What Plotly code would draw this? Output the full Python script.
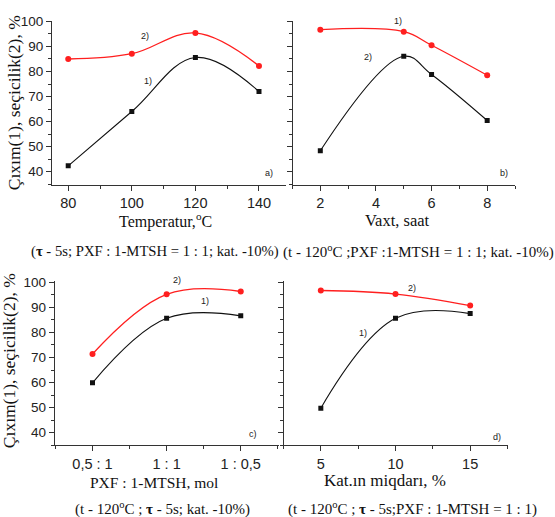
import plotly.graph_objects as go

# ---------------- data ----------------
temp = [80, 100, 120, 140]
temp_yield = [42.3, 64.0, 85.6, 72.0]
temp_select = [85.0, 87.1, 95.4, 82.2]

time_h = [2, 5, 6, 8]
time_select = [96.7, 95.9, 90.5, 78.5]   # labelled "1)" in panel b
time_yield = [48.3, 86.1, 78.8, 60.4]    # labelled "2)" in panel b

ratio_labels = ["0,5 : 1", "1 : 1", "1 : 0,5"]
ratio_yield = [59.9, 85.6, 86.6]
ratio_select = [71.4, 95.2, 96.3]

cat_pct = [5, 10, 15]
cat_yield = [49.8, 85.6, 87.5]
cat_select = [96.7, 95.3, 90.7]

y_ticks = [40, 50, 60, 70, 80, 90, 100]

# ---------------- layout helpers ----------------
W, H = 555, 517
def px(x):
    return x / W
def py(y):
    return 1 - y / H

RED = "#ff1f1f"
BLACK = "#111111"
AX = "#333333"
SERIF = "Liberation Serif, Times New Roman, serif"
SANS = "Liberation Sans, Arial, sans-serif"

fig = go.Figure()

ratio_x = list(range(len(ratio_labels)))

panels = [
    ("x", "y", temp, temp_yield, temp_select),
    ("x2", "y2", time_h, time_yield, time_select),
    ("x3", "y3", ratio_x, ratio_yield, ratio_select),
    ("x4", "y4", cat_pct, cat_yield, cat_select),
]

for xa, ya, xs, blk, red in panels:
    fig.add_trace(go.Scatter(
        x=xs, y=red, xaxis=xa, yaxis=ya, mode="lines+markers",
        line=dict(color=RED, width=1.3, shape="spline", smoothing=1.1),
        marker=dict(color=RED, size=6, symbol="circle"),
        showlegend=False, hoverinfo="x+y"))
    fig.add_trace(go.Scatter(
        x=xs, y=blk, xaxis=xa, yaxis=ya, mode="lines+markers",
        line=dict(color=BLACK, width=1.1, shape="spline", smoothing=1.1),
        marker=dict(color=BLACK, size=5, symbol="square"),
        showlegend=False, hoverinfo="x+y"))

def xaxis(domain, anchor, rng, **kw):
    d = dict(domain=domain, anchor=anchor, range=rng, showgrid=False, zeroline=False,
             showline=True, linecolor=AX, linewidth=1, ticks="outside", ticklen=5,
             tickcolor=AX, tickwidth=1, mirror=False,
             tickfont=dict(family=SANS, size=14.5, color="#222"))
    d.update(kw)
    return d

def yaxis(domain, anchor, rng, labels=True):
    return dict(domain=domain, anchor=anchor, range=rng, showgrid=False, zeroline=False,
                showline=True, linecolor=AX, linewidth=1, ticks="outside", ticklen=5,
                tickcolor=AX, tickwidth=1, tickvals=y_ticks, showticklabels=labels,
                minor=dict(ticks="outside", ticklen=3, dtick=5, tickcolor=AX, showgrid=False),
                tickfont=dict(family=SANS, size=13.5, color="#222"))

top_dom = [py(180), py(13.9)]
bot_dom = [py(444.3), py(278)]

fig.update_layout(
    width=W, height=H, margin=dict(l=0, r=0, t=0, b=0),
    paper_bgcolor="white", plot_bgcolor="white",
    xaxis=xaxis([px(52), px(285.7)], "y", [74.9, 148.4], tickvals=temp,
                minor=dict(ticks="outside", ticklen=3, dtick=10, tickcolor=AX, showgrid=False)),
    yaxis=yaxis(top_dom, "x", [34.8, 100.3]),
    xaxis2=xaxis([px(292.5), px(515)], "y2", [1, 9], tickvals=[2, 4, 6, 8],
                 minor=dict(ticks="outside", ticklen=3, dtick=1, tickcolor=AX, showgrid=False)),
    yaxis2=yaxis(top_dom, "x2", [34.8, 100.3], labels=False),
    xaxis3=xaxis([px(54.7), px(279.3)], "y3", [-0.51, 2.52], tickvals=ratio_x,
                 ticktext=ratio_labels,
                 minor=dict(ticks="outside", ticklen=3, dtick=0.5, tickcolor=AX, showgrid=False)),
    yaxis3=yaxis(bot_dom, "x3", [35.0, 100.4]),
    xaxis4=xaxis([px(283.5), px(507.5)], "y4", [2.5, 17.5], tickvals=cat_pct,
                 minor=dict(ticks="outside", ticklen=3, dtick=2.5, tickcolor=AX, showgrid=False)),
    yaxis4=yaxis(bot_dom, "x4", [35.0, 100.4], labels=False),
)

ann = []
def txt(text, x, y, size, family=SERIF, angle=0, xanchor="center", color="#111"):
    ann.append(dict(text=text, x=px(x), y=py(y), xref="paper", yref="paper",
                    xanchor=xanchor, yanchor="middle", showarrow=False, textangle=angle,
                    font=dict(family=family, size=size, color=color)))

def lab(text, xa, ya, x, y):
    ann.append(dict(text=text, x=x, y=y, xref=xa, yref=ya, showarrow=False,
                    xanchor="center", yanchor="middle",
                    font=dict(family=SANS, size=9, color="#222")))

# y titles
ytitle = "Çıxım(1), seçicilik(2), %"
txt(ytitle, 14, 97.5, 17.5, angle=-90)
txt(ytitle, 9, 359, 17.5, angle=-90)

# x titles
txt("Temperatur,<sup>o</sup>C", 165, 216.7, 16)
txt("Vaxt, saat", 397.5, 216.7, 16.5)
txt("PXF : 1-MTSH, mol", 154, 481.7, 15.5)
txt("Kat.ın miqdarı, %", 385, 480, 17)

# conditions
txt("(<b>τ</b> - 5s; PXF : 1-MTSH = 1 : 1; kat. -10%)", 154.5, 248, 14.7)
txt("(t - 120<sup>o</sup>C ;PXF :1-MTSH = 1 : 1; kat. -10%)", 418, 248, 15)
txt("(t - 120<sup>o</sup>C ; <b>τ</b> - 5s; kat. -10%)", 162.5, 508, 15)
txt("(t - 120<sup>o</sup>C ; <b>τ</b> - 5s;PXF : 1-MTSH = 1 : 1)", 412.5, 508, 15)

# curve labels
lab("1)", "x", "y", 105.2, 76.2)
lab("2)", "x", "y", 104.2, 94.3)
lab("a)", "x", "y", 143.1, 39.5)
txt("1)", 397.7, 14, 9, family=SANS, color="#222")
lab("2)", "x2", "y2", 3.7, 85.8)
lab("b)", "x2", "y2", 8.6, 39.3)
txt("2)", 176.7, 276.7, 9, family=SANS, color="#222")
lab("1)", "x3", "y3", 1.52, 92.7)
lab("c)", "x3", "y3", 2.16, 39.5)
lab("2)", "x4", "y4", 11.1, 97.9)
lab("1)", "x4", "y4", 7.8, 79.7)
lab("d)", "x4", "y4", 16.8, 38.2)

fig.update_layout(annotations=ann)

fig.write_html("out.html", config={"displayModeBar": False},
               post_script="document.body.style.margin='0';document.body.style.overflow='hidden';")
